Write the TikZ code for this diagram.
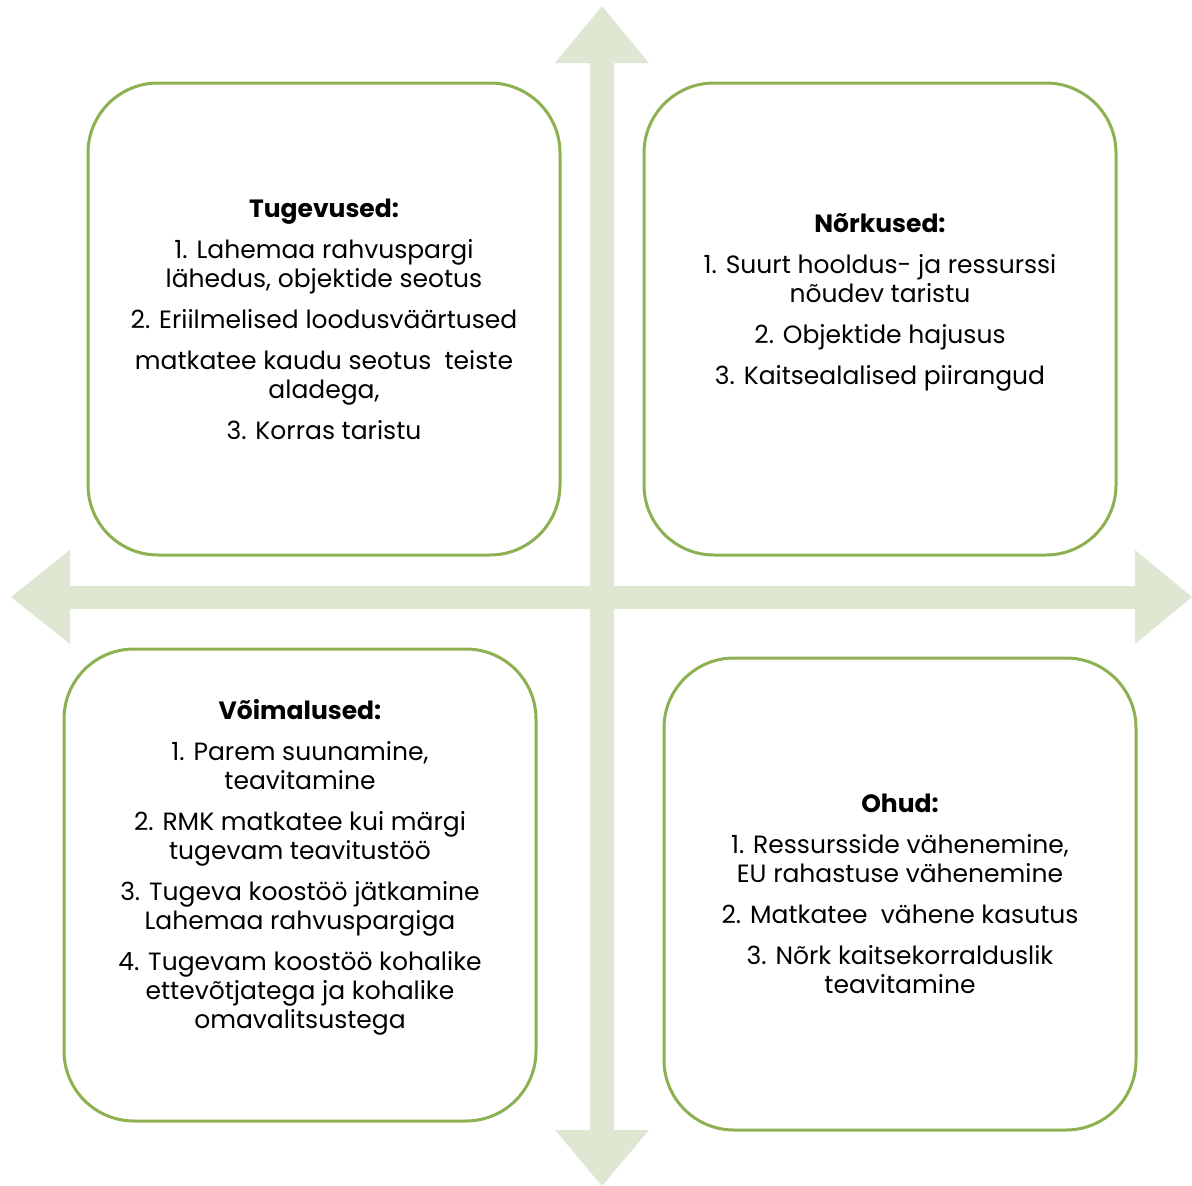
\documentclass[tikz,border=0pt]{standalone}
\usepackage{fontspec}
\setmainfont{Poppins}
\definecolor{frame}{HTML}{8DB050}
\definecolor{arrowfill}{HTML}{DDE7D2}
\tikzset{
  quad/.style={draw=frame, line width=3pt, rounded corners=70pt, fill=white,
    minimum width=472pt, minimum height=472pt, inner sep=0pt},
  txt/.style={align=center, inner sep=0pt, font=\fontsize{25}{29}\selectfont, text=black},
}
\newcommand{\pgap}{\\[12pt]}
\begin{document}
\begin{tikzpicture}[x=1pt, y=-1pt]
\useasboundingbox (0,0) rectangle (1192,1186);
\fill[arrowfill] (602,6) -- (649,63) -- (614,63) -- (614,586) -- (1135,586) -- (1135,550)
  -- (1192,597) -- (1135,644) -- (1135,609) -- (614,609) -- (614,1130) -- (649,1130)
  -- (602,1186) -- (555,1130) -- (590,1130) -- (590,609) -- (70,609) -- (70,644)
  -- (11,597) -- (70,550) -- (70,586) -- (590,586) -- (590,63) -- (555,63) -- cycle;
\node[quad] (s) at (324,319) {};
\node[quad] (w) at (880,319) {};
\node[quad] (o) at (300,885) {};
\node[quad] (t) at (900,894) {};
\node[txt] (st) at (324,319) {\textbf{Tugevused:}\pgap 1. Lahemaa rahvuspargi\\ lähedus, objektide seotus\pgap 2. Eriilmelised loodusväärtused\pgap matkatee kaudu seotus \ teiste\\ aladega,\pgap 3. Korras taristu};
\node[txt] (wt) at (880,302) {\textbf{Nõrkused:}\pgap 1. Suurt hooldus- ja ressurssi\\ nõudev taristu\pgap 2. Objektide hajusus\pgap 3. Kaitsealalised piirangud};
\node[txt] (ot) at (300,867) {\textbf{Võimalused:}\pgap 1. Parem suunamine,\\ teavitamine\pgap 2. RMK matkatee kui märgi\\ tugevam teavitustöö\pgap 3. Tugeva koostöö jätkamine\\ Lahemaa rahvuspargiga\pgap 4. Tugevam koostöö kohalike\\ ettevõtjatega ja kohalike\\ omavalitsustega};
\node[txt] (tt) at (900,894) {\textbf{Ohud:}\pgap 1. Ressursside vähenemine,\\ EU rahastuse vähenemine\pgap 2. Matkatee \ vähene kasutus\pgap 3. Nõrk kaitsekorralduslik\\ teavitamine};
\end{tikzpicture}
\end{document}
